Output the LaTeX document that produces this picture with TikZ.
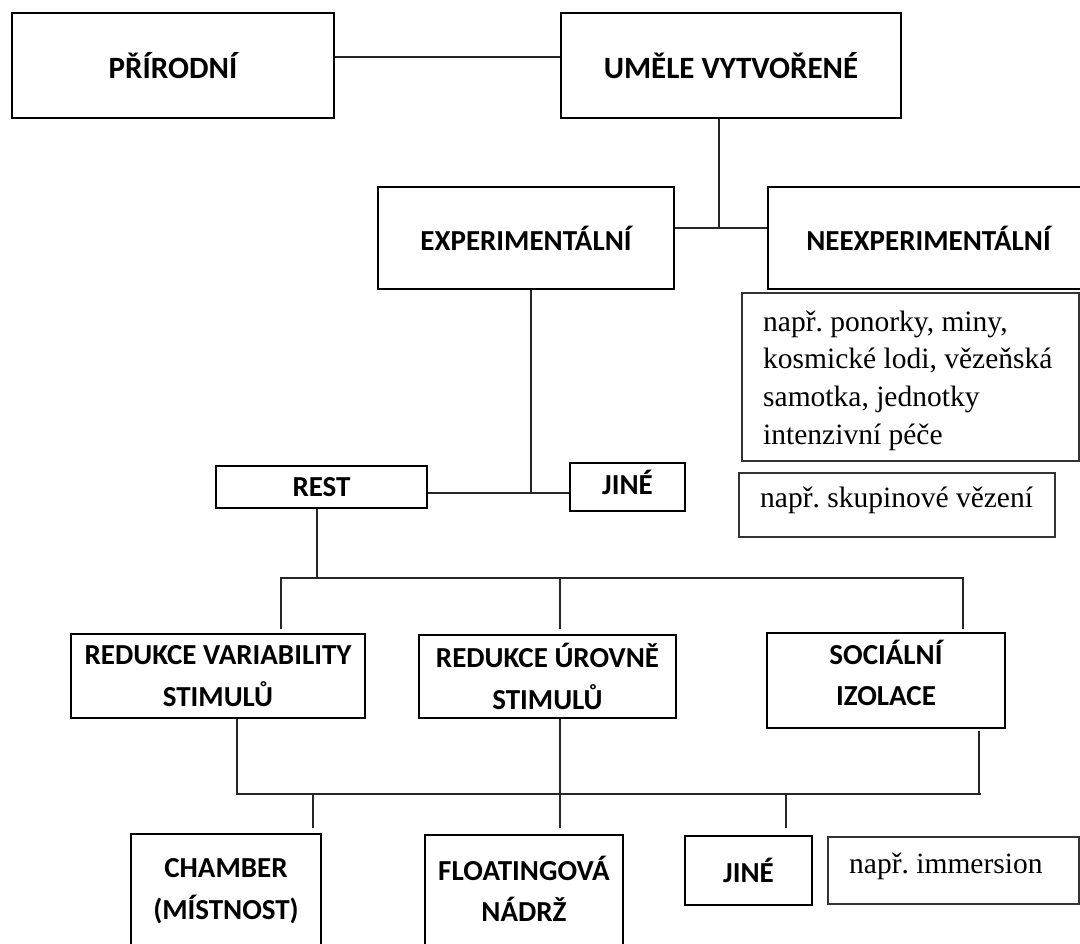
\documentclass[tikz,border=0pt]{standalone}
\usepackage{fontspec}
\setmainfont{Carlito}
\newfontfamily\serifnote{Liberation Serif}
\begin{document}
\frenchspacing
\begin{tikzpicture}[x=1pt,y=-1pt,
  bx/.style={draw, line width=2.6pt, inner sep=0pt, align=center,
    font=\fontsize{29}{41.5}\selectfont\bfseries},
  bigbx/.style={bx, font=\fontsize{31}{41.5}\selectfont\bfseries},
  notebox/.style={draw=black!80, line width=1.1pt, inner sep=0pt},
  notetext/.style={inner sep=0pt, align=left, anchor=base west,
    font=\fontsize{29.5}{37.8}\selectfont\serifnote},
  conn/.style={line width=1.9pt, draw=black!85}]
\useasboundingbox (0,0) rectangle (1080,944);
\clip (0,0) rectangle (1080,944);

% top level
\node[bigbx, minimum width=322pt, minimum height=105pt] (prir) at (173,65.5) {PŘÍRODNÍ};
\node[bigbx, minimum width=340pt, minimum height=105pt] (umele) at (731,65.5) {UMĚLE VYTVOŘENÉ};

% second level
\node[bx, minimum width=296pt, minimum height=102pt] (exp) at (526,238) {EXPERIMENTÁLNÍ};
\node[bx, minimum width=321pt, minimum height=102pt] (neexp) at (928.5,238) {NEEXPERIMENTÁLNÍ};

% notes
\node[notebox, minimum width=337pt, minimum height=168pt] (note1) at (910.5,377) {};
\node[notetext] (note1t) at (763,444.5) {např. ponorky, miny,\\kosmické lodi, vězeňská\\samotka, jednotky\\intenzivní péče};
\node[notebox, minimum width=316pt, minimum height=64pt] (note2) at (897,505) {};
\node[notetext] (note2t) at (760,507) {např. skupinové vězení};

% third level
\node[bx, minimum width=211pt, minimum height=42pt] (rest) at (321.5,487) {REST};
\node[bx, minimum width=115pt, minimum height=48pt, text depth=10pt] (jine1) at (627.5,487) {JINÉ};

% fourth level
\node[bx, minimum width=294pt, minimum height=84pt] (rvs) at (218,676) {REDUKCE VARIABILITY\\STIMULŮ};
\node[bx, minimum width=257pt, minimum height=83pt] (rus) at (547.5,676.5) {REDUKCE ÚROVNĚ\\STIMULŮ};
\node[bx, minimum width=238pt, minimum height=95pt, text depth=15pt] (si) at (886,680.5) {SOCIÁLNÍ\\IZOLACE};

% fifth level
\node[bx, minimum width=190pt, minimum height=114pt] (chamber) at (226,891) {CHAMBER\\(MÍSTNOST)};
\node[bx, minimum width=198pt, minimum height=113pt, text depth=5pt] (float) at (524,891.5) {FLOATINGOVÁ\\NÁDRŽ};
\node[bx, minimum width=127pt, minimum height=69pt] (jine2) at (748.5,870.5) {JINÉ};
\node[notebox, minimum width=251pt, minimum height=67pt] (imm) at (953.5,870.5) {};
\node[notetext] (immt) at (849,873) {např. immersion};

% connectors
\draw[conn] ([yshift=8.5pt]prir.east) -- ([yshift=8.5pt]umele.west);

\coordinate (j1) at (719,228);
\draw[conn] (umele.south -| j1) -- (j1);
\draw[conn] (exp.east |- j1) -- (neexp.west |- j1);

\coordinate (j2) at (531,493);
\draw[conn] (exp.south -| j2) -- (j2);
\draw[conn] (rest.east |- j2) -- (jine1.west |- j2);

\coordinate (j3) at (317,578);
\draw[conn] (rest.south -| j3) -- (j3);
\coordinate (b1) at (281,578);
\coordinate (b2) at (963,578);
\coordinate (v1) at (281,629);
\coordinate (v2) at (560,629);
\coordinate (v3) at (963,629);
\draw[conn] (v1) -- (b1) -- (b2) -- (v3);
\draw[conn] (v2) -- (v2 |- b1);

\coordinate (c1) at (237,794);
\coordinate (c2) at (981,794);
\draw[conn] (rvs.south -| c1) -- (c1) -- (c2);
\coordinate (s1) at (979,731);
\draw[conn] (s1) -- (s1 |- c1);
\coordinate (d1) at (313,828);
\coordinate (d2) at (560,828);
\coordinate (d3) at (786,828);
\draw[conn] (rus.south -| d2) -- (d2);
\draw[conn] (d1) -- (d1 |- c1);
\draw[conn] (d3) -- (d3 |- c1);
\end{tikzpicture}
\end{document}
